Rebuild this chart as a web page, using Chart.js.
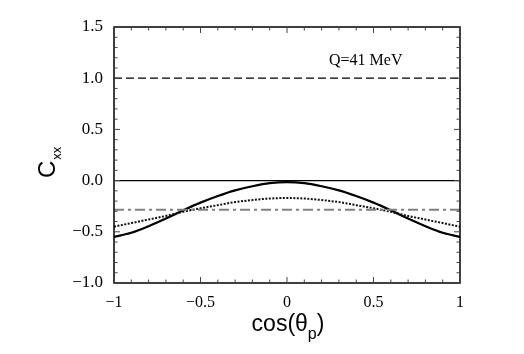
<!DOCTYPE html>
<html>
<head>
<meta charset="utf-8">
<script src="https://cdn.jsdelivr.net/npm/chart.js@4.4.1/dist/chart.umd.min.js"></script>
<style>
  html, body { margin: 0; padding: 0; background: #fff; }
  canvas { display: block; }
</style>
</head>
<body>
<canvas id="grafico" width="524" height="354"></canvas>
<script>
// values
const cosTheta = [-1, -0.9, -0.8, -0.7, -0.6, -0.5, -0.4, -0.3, -0.2, -0.1, 0,
                  0.1, 0.2, 0.3, 0.4, 0.5, 0.6, 0.7, 0.8, 0.9, 1];
const cxxSolid = [-0.55, -0.51, -0.445, -0.37, -0.29, -0.215, -0.15, -0.095, -0.055, -0.025, -0.015,
                  -0.025, -0.055, -0.095, -0.15, -0.215, -0.29, -0.37, -0.445, -0.51, -0.55];
const cxxDotted = [-0.45, -0.415, -0.38, -0.345, -0.305, -0.27, -0.24, -0.21, -0.19, -0.175, -0.17,
                   -0.175, -0.19, -0.21, -0.24, -0.27, -0.305, -0.345, -0.38, -0.415, -0.45];
const lineDashed = 1.0;
const lineZero = 0.0;
const lineDashDot = -0.285;
const xTicks = [-1, -0.5, 0, 0.5, 1];
const yTicks = [-1.0, -0.5, 0.0, 0.5, 1.0, 1.5];

const minus = s => s.replace("-", "\u2212");

function pts(ys) {
    return cosTheta.map((x, i) => ({ x: x, y: ys[i] }));
}
function flat(v) {
    return [{ x: cosTheta[0], y: v }, { x: cosTheta[cosTheta.length - 1], y: v }];
}

const extras = {
    id: "extras",
    afterDraw(chart) {
        const c = chart.ctx;
        const a = chart.chartArea;
        const xs = chart.scales.x;
        const ys = chart.scales.y;
        c.save();
        // frame
        c.strokeStyle = "#000";
        c.lineWidth = 1.5;
        c.strokeRect(a.left, a.top, a.right - a.left, a.bottom - a.top);
        // inward ticks
        c.lineWidth = 1;
        c.strokeStyle = "#444";
        c.beginPath();
        for (let i = 0; i <= 20; i++) {
            const v = -1 + i * 0.1;
            const px = xs.getPixelForValue(v);
            const len = (i % 5 === 0) ? 6 : 3.5;
            c.moveTo(px, a.bottom); c.lineTo(px, a.bottom - len);
            c.moveTo(px, a.top); c.lineTo(px, a.top + len);
        }
        for (let i = 0; i <= 25; i++) {
            const v = -1 + i * 0.1;
            const py = ys.getPixelForValue(v);
            const len = (i % 5 === 0) ? 6 : 3.5;
            c.moveTo(a.left, py); c.lineTo(a.left + len, py);
            c.moveTo(a.right, py); c.lineTo(a.right - len, py);
        }
        c.stroke();

        c.fillStyle = "#000";
        // annotation
        c.font = "16px 'Liberation Serif'";
        c.textBaseline = "alphabetic";
        c.textAlign = "left";
        c.fillText("Q=41 MeV", 329, 65);

        // x title cos(θp)
        c.font = "23px 'Liberation Sans'";
        const t1 = "cos(\u03b8";
        const w1 = c.measureText(t1).width;
        c.font = "16px 'Liberation Sans'";
        const wp = c.measureText("p").width;
        c.font = "23px 'Liberation Sans'";
        const w2 = c.measureText(")").width;
        let x0 = 288 - (w1 + wp + w2) / 2;
        c.fillText(t1, x0, 331);
        c.font = "16px 'Liberation Sans'";
        c.fillText("p", x0 + w1, 339);
        c.font = "23px 'Liberation Sans'";
        c.fillText(")", x0 + w1 + wp, 331);

        // y title C_xx, rotated
        c.translate(55, 178);
        c.rotate(-Math.PI / 2);
        c.font = "24px 'Liberation Sans'";
        c.fillText("C", 0, 0);
        const wc = c.measureText("C").width;
        c.font = "13px 'Liberation Sans'";
        c.fillText("xx", wc + 1, 6);
        c.restore();
    }
};

const ctx = document.getElementById("grafico").getContext("2d");
new Chart(ctx, {
    type: "scatter",
    data: {
        datasets: [
            {
                label: "dashed",
                data: flat(lineDashed),
                showLine: true,
                borderColor: "#000",
                borderWidth: 1.2,
                borderDash: [8, 4],
                pointRadius: 0,
            },
            {
                label: "zero",
                data: flat(lineZero),
                showLine: true,
                borderColor: "#000",
                borderWidth: 1.2,
                pointRadius: 0,
            },
            {
                label: "dash-dot",
                data: flat(lineDashDot),
                showLine: true,
                borderColor: "#808080",
                borderWidth: 2,
                borderDash: [10, 4, 3, 4],
                pointRadius: 0,
            },
            {
                label: "dotted",
                data: pts(cxxDotted),
                showLine: true,
                borderColor: "#111",
                borderWidth: 2,
                borderDash: [2, 1.5],
                pointRadius: 0,
                cubicInterpolationMode: "monotone",
            },
            {
                label: "solid",
                data: pts(cxxSolid),
                showLine: true,
                borderColor: "#000",
                borderWidth: 2.2,
                pointRadius: 0,
                cubicInterpolationMode: "monotone",
            },
        ],
    },
    options: {
        responsive: false,
        animation: false,
        layout: { padding: { left: 0, top: 27, right: 64, bottom: 0 } },
        plugins: {
            legend: { display: false },
            tooltip: { enabled: false },
        },
        scales: {
            x: {
                type: "linear",
                min: -1,
                max: 1,
                grid: { display: false },
                border: { display: false },
                afterFit: s => { s.height = 71; },
                afterBuildTicks: s => { s.ticks = xTicks.map(v => ({ value: v })); },
                ticks: {
                    padding: 2,
                    color: "#000",
                    font: { family: "'Liberation Serif'", size: 16 },
                    callback: v => minus(String(v)),
                },
            },
            y: {
                type: "linear",
                min: -1,
                max: 1.5,
                grid: { display: false },
                border: { display: false },
                afterFit: s => { s.width = 114; },
                afterBuildTicks: s => { s.ticks = yTicks.map(v => ({ value: v })); },
                ticks: {
                    padding: 3,
                    color: "#000",
                    font: { family: "'Liberation Serif'", size: 17 },
                    callback: v => minus(v.toFixed(1)),
                },
            },
        },
    },
    plugins: [extras],
});
</script>
</body>
</html>
